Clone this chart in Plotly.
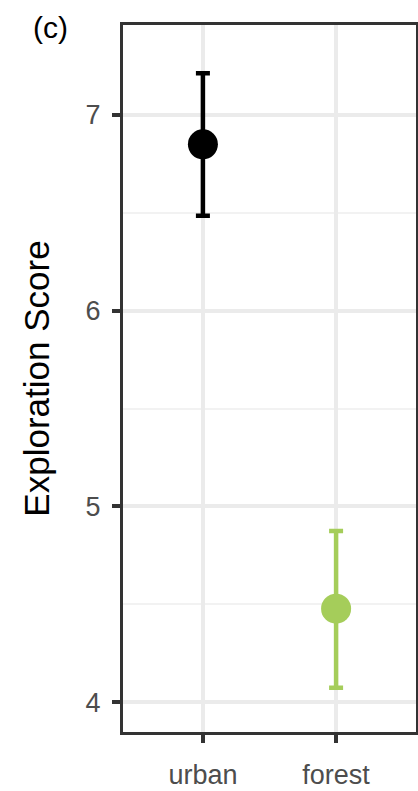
import plotly.graph_objects as go

# group means with confidence limits
habitat = ["urban", "forest"]
score_mean = [6.85, 4.477]
score_upper = [7.213, 4.874]
score_lower = [6.485, 4.073]
point_colors = ["#000000", "#a5cd5a"]

fig = go.Figure()

for i, h in enumerate(habitat):
    fig.add_trace(
        go.Scatter(
            x=[h],
            y=[score_mean[i]],
            mode="markers",
            marker=dict(color=point_colors[i], size=30, line=dict(width=0)),
            error_y=dict(
                type="data",
                symmetric=False,
                array=[score_upper[i] - score_mean[i]],
                arrayminus=[score_mean[i] - score_lower[i]],
                color=point_colors[i],
                thickness=4.5,
                width=7,
            ),
            showlegend=False,
            name=h,
        )
    )

fig.update_layout(
    width=418,
    height=791,
    margin=dict(l=123, r=2, t=25, b=59),
    plot_bgcolor="white",
    paper_bgcolor="white",
    font=dict(family="Liberation Sans, Arial, sans-serif"),
)

fig.update_xaxes(
    type="category",
    categoryorder="array",
    categoryarray=habitat,
    range=[-0.6, 1.6],
    automargin=False,
    showgrid=True,
    gridcolor="#ebebeb",
    gridwidth=4,
    showline=True,
    mirror=True,
    linecolor="#333333",
    linewidth=3,
    ticks="outside",
    ticklen=8,
    tickwidth=3.5,
    tickcolor="#333333",
    tickfont=dict(size=27, color="#4d4d4d"),
    ticklabelstandoff=9,
    zeroline=False,
)

fig.update_yaxes(
    range=[3.847, 7.46],
    tickvals=[4, 5, 6, 7],
    automargin=False,
    showgrid=True,
    gridcolor="#ebebeb",
    gridwidth=4,
    minor=dict(tickvals=[4.5, 5.5, 6.5, 7.5], showgrid=True,
               gridcolor="#f2f2f2", gridwidth=2, ticks=""),
    showline=True,
    mirror=True,
    linecolor="#333333",
    linewidth=3,
    ticks="outside",
    ticklen=8,
    tickwidth=3.5,
    tickcolor="#333333",
    tickfont=dict(size=27, color="#4d4d4d"),
    ticklabelstandoff=6,
    zeroline=False,
    title=dict(text="Exploration Score", font=dict(size=35, color="black"), standoff=26),
)

fig.add_annotation(
    text="(c)", x=-0.246, y=0.996, xref="paper", yref="paper",
    xanchor="center", yanchor="middle",
    showarrow=False, font=dict(size=30, color="black"),
)

# drop the default body margin so the figure sits at the page corner
fig.write_html("out.html", config={"displayModeBar": False},
               post_script="document.body.style.margin='0';")
